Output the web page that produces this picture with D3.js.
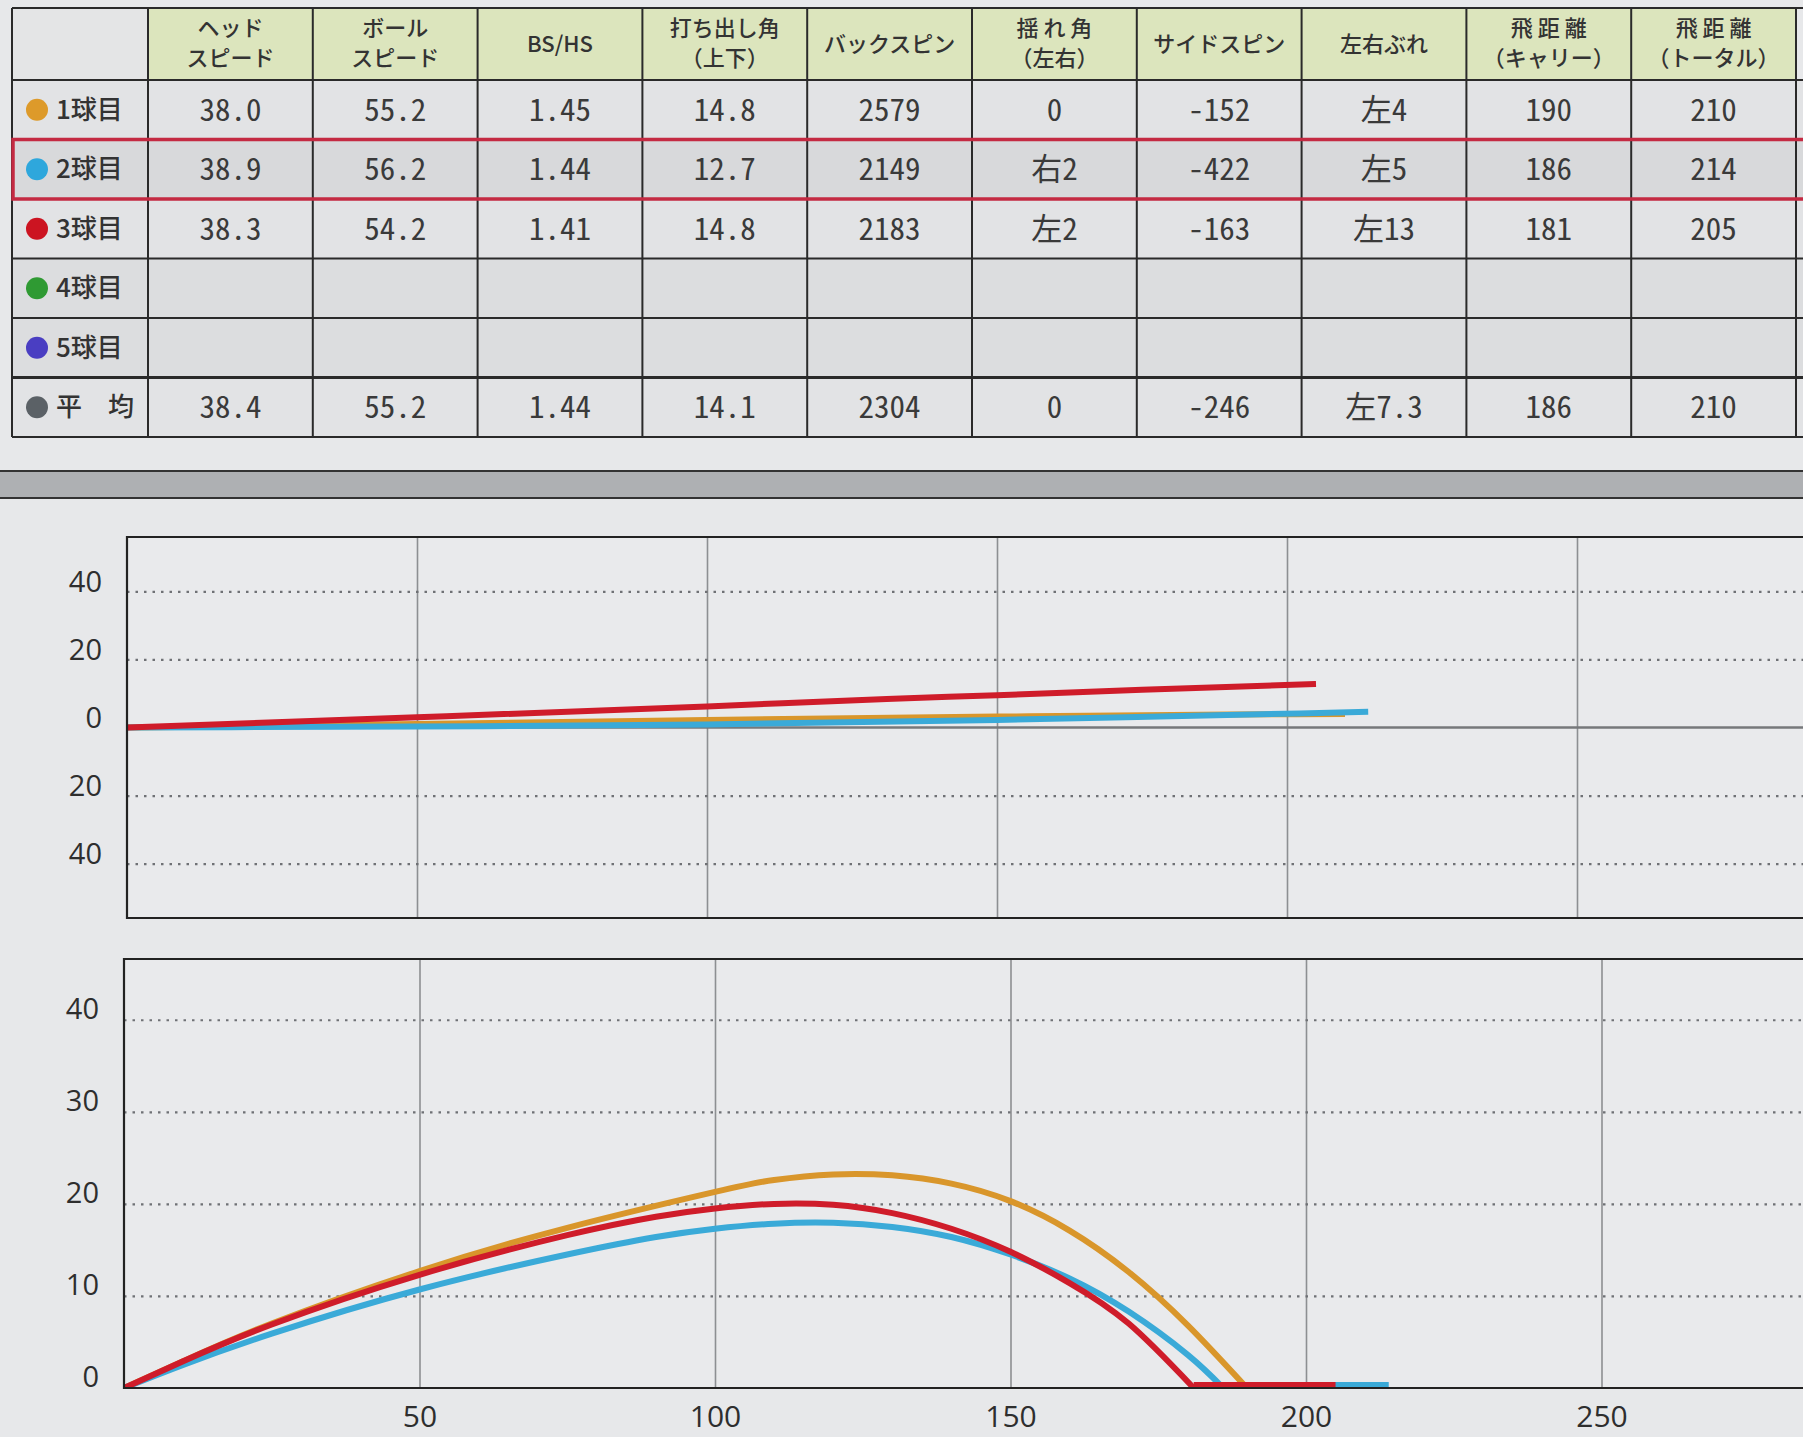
<!DOCTYPE html>
<html><head><meta charset="utf-8">
<script src="https://cdn.jsdelivr.net/npm/d3@7"></script>
<style>
html,body{margin:0;padding:0;background:#e6e7e9;overflow:hidden}
svg{display:block}
</style></head><body>
<svg id="c" width="1803" height="1437"></svg>
<script>
// ---------- table data ----------
const rowLabels = ["1球目","2球目","3球目","4球目","5球目","平　均"];
const rowColors = ["#dd9a2a","#2ea7dc","#cc1421","#2f9a33","#4a3ec2","#5b6166"];
const headerLines = [
  ["ヘッド","スピード"],["ボール","スピード"],["BS/HS"],["打ち出し角","（上下）"],
  ["バックスピン"],["揺 れ 角","（左右）"],["サイドスピン"],["左右ぶれ"],
  ["飛 距 離","（キャリー）"],["飛 距 離","（トータル）"]
];
const headSpeed = ["38.0","38.9","38.3","","","38.4"];
const ballSpeed = ["55.2","56.2","54.2","","","55.2"];
const bsHs      = ["1.45","1.44","1.41","","","1.44"];
const launch    = ["14.8","12.7","14.8","","","14.1"];
const backSpin  = ["2579","2149","2183","","","2304"];
const sideAngle = ["0","右2","左2","","","0"];
const sideSpin  = ["-152","-422","-163","","","-246"];
const lateral   = ["左4","左5","左13","","","左7.3"];
const carry     = ["190","186","181","","","186"];
const total     = ["210","214","205","","","210"];
const columns = [headSpeed,ballSpeed,bsHs,launch,backSpin,sideAngle,sideSpin,lateral,carry,total];

// ---------- chart data (yards) ----------
const shotNames  = ["1球目","2球目","3球目"];
const shotColors = ["#d9962b","#3aaad8","#cf1c2a"];
// top view: [distance, lateral (left positive)]
const top1 = [[0,0],[50,1.0],[100,2.2],[150,3.2],[190,3.8],[210,4.0]];
const top2 = [[0,0],[50,0.3],[100,0.9],[150,2.2],[180,3.3],[214,4.6]];
const top3 = [[0,0],[50,3.0],[100,6.2],[131,8.4],[150,9.5],[175,11.1],[205,12.8]];
// side view flight: [distance, height]
const flight1 = [[0,0],[10,2.9],[25,7.0],[50,12.7],[75,17.4],[100,21.3],[110,22.6],[120,23.2],[130,23.1],[140,22.2],[150,20.3],[160,17.1],[170,12.6],[180,6.8],[190,0]];
const flight2 = [[0,0],[10,2.5],[25,5.9],[50,10.7],[75,14.5],[90,16.4],[100,17.3],[110,17.85],[120,17.95],[130,17.5],[140,16.4],[150,14.5],[160,11.9],[170,8.3],[180,3.6],[186,0]];
const flight3 = [[0,0],[10,2.9],[25,6.9],[50,12.3],[75,16.6],[90,18.6],[100,19.5],[110,20.0],[120,19.9],[130,19.0],[140,17.3],[150,14.8],[160,11.4],[170,7.0],[181,0]];
// side view roll on the ground: [carry, total]
const roll1 = [190,210];
const roll2 = [186,214];
const roll3 = [181,205];
const topSeries  = [top1, top2, top3];
const flightSeries = [flight1, flight2, flight3];
const rollSeries = [roll1, roll2, roll3];
const xTicks = [50,100,150,200,250];
const topYTicks = [-40,-20,0,20,40];
const sideYTicks = [0,10,20,30,40];

const svg = d3.select("#c");
const W = 1803, H = 1437;
svg.append("rect").attr("width",W).attr("height",H).attr("fill","#e7e8ea");

// ---------- table ----------
const tLeft = 12, c1 = 148, tRight = 1796;
const colW = (tRight - c1) / 10;
const colX = i => i === 0 ? tLeft : c1 + (i-1)*colW;
const hTop = 8, hBot = 80, rowH = 59.5;
const rowY = r => hBot + r*rowH;

const tbl = svg.append("g");
tbl.append("rect").attr("x",tLeft).attr("y",hTop).attr("width",c1-tLeft).attr("height",hBot-hTop).attr("fill","#e4e5e6");
tbl.selectAll("rect.h").data(headerLines).join("rect").attr("class","h")
  .attr("x",(d,i)=>colX(i+1)).attr("y",hTop).attr("width",colW).attr("height",hBot-hTop)
  .attr("fill","#dce5bd");
tbl.selectAll("text.h").data(headerLines).join("text").attr("class","h")
  .attr("x",(d,i)=>colX(i+1)+colW/2)
  .attr("text-anchor","middle")
  .attr("font-family","'Noto Sans CJK JP','Noto Sans',sans-serif")
  .attr("font-weight",500).attr("font-size",22).attr("fill","#333")
  .each(function(d){
    const t = d3.select(this);
    if (d.length === 1) {
      t.append("tspan").attr("y",(hTop+hBot)/2+8).text(d[0]);
    } else {
      t.append("tspan").attr("x",t.attr("x")).attr("y",hTop+28).text(d[0]);
      t.append("tspan").attr("x",t.attr("x")).attr("y",hTop+58).text(d[1]);
    }
  });
tbl.selectAll("rect.b").data(rowLabels).join("rect").attr("class","b")
  .attr("x",tLeft).attr("y",(d,i)=>rowY(i)).attr("width",W-tLeft).attr("height",rowH)
  .attr("fill",(d,i)=> i===1 ? "#d8d9db" : (i===3||i===4 ? "#dcdddf" : "#e2e3e5"));
tbl.selectAll("circle.dot").data(rowLabels).join("circle").attr("class","dot")
  .attr("cx",37).attr("cy",(d,i)=>rowY(i)+rowH/2).attr("r",11)
  .attr("fill",(d,i)=>rowColors[i]);
tbl.selectAll("text.lab").data(rowLabels).join("text").attr("class","lab")
  .attr("x",56).attr("y",(d,i)=>rowY(i)+rowH/2+9)
  .attr("font-family","'Noto Sans CJK JP',sans-serif").attr("font-weight",500)
  .attr("font-size",26).attr("fill","#333").text(d=>d);
columns.forEach((col,ci)=>{
  tbl.selectAll("text.v"+ci).data(col).join("text").attr("class","v"+ci)
    .attr("x",colX(ci+1)+colW/2).attr("y",(d,i)=>rowY(i)+rowH/2+11)
    .attr("text-anchor","middle")
    .attr("font-family","'Noto Sans Mono CJK JP','Liberation Mono',monospace")
    .attr("font-weight",300)
    .attr("font-size",31).attr("fill","#3a3a3a").text(d=>d);
});
const lineCol = "#2a2a2a";
const hy = [hTop, hBot].concat(d3.range(1,7).map(r=>rowY(r)));
tbl.selectAll("line.hl").data(hy).join("line").attr("class","hl")
  .attr("x1",tLeft).attr("x2",W).attr("y1",d=>d).attr("y2",d=>d)
  .attr("stroke",lineCol).attr("stroke-width",(d,i)=> i===6 ? 3 : 2);
const vx = d3.range(0,12).map(i=> i<11 ? colX(i) : tRight);
tbl.selectAll("line.vl").data(vx).join("line").attr("class","vl")
  .attr("x1",d=>d).attr("x2",d=>d).attr("y1",hTop).attr("y2",rowY(6))
  .attr("stroke",lineCol).attr("stroke-width",2);
tbl.append("rect").attr("x",tLeft+1).attr("y",rowY(1)).attr("width",W).attr("height",rowH)
  .attr("fill","none").attr("stroke","#c42a42").attr("stroke-width",3.5);

// ---------- separator band ----------
svg.append("rect").attr("x",0).attr("y",472).attr("width",W).attr("height",26).attr("fill","#aeb0b3");
svg.append("line").attr("x1",0).attr("x2",W).attr("y1",471).attr("y2",471).attr("stroke","#333").attr("stroke-width",2);
svg.append("line").attr("x1",0).attr("x2",W).attr("y1",498).attr("y2",498).attr("stroke","#333").attr("stroke-width",2);

const fontAxis = "'Open Sans','Noto Sans',sans-serif";

function drawPlot(opts){
  const {x, y, top, bottom, yTicks, yFmt, zeroLine, xLabels, id} = opts;
  const g = svg.append("g");
  const left = x.range()[0];
  g.append("clipPath").attr("id",id).append("rect")
    .attr("x",left).attr("y",top).attr("width",W-left).attr("height",bottom-top);
  g.append("rect").attr("x",left).attr("y",top).attr("width",W-left+10).attr("height",bottom-top)
    .attr("fill","#e9eaec");
  g.append("g").attr("transform",`translate(0,${bottom})`)
    .call(d3.axisBottom(x).tickValues(xTicks).tickSize(-(bottom-top)).tickFormat(""))
    .call(a=>a.select(".domain").remove())
    .call(a=>a.selectAll("line").attr("stroke","#8d8f92").attr("stroke-width",1.6));
  g.append("g").attr("transform",`translate(${left},0)`)
    .call(d3.axisLeft(y).tickValues(yTicks.filter(v=>v!==0)).tickSize(-(W-left)).tickFormat(""))
    .call(a=>a.select(".domain").remove())
    .call(a=>a.selectAll("line").attr("stroke","#6f7175").attr("stroke-width",2.2).attr("stroke-dasharray","2.5,6"));
  if (zeroLine) {
    g.append("line").attr("x1",left).attr("x2",W).attr("y1",y(0)).attr("y2",y(0))
      .attr("stroke","#76787b").attr("stroke-width",2.5);
  }
  g.append("g").attr("transform",`translate(${left-22},0)`)
    .call(d3.axisLeft(y).tickValues(yTicks).tickSize(0).tickFormat(yFmt))
    .call(a=>a.select(".domain").remove())
    .call(a=>a.selectAll("text").attr("font-family",fontAxis).attr("font-size",29)
      .attr("fill","#2e2e2e").attr("dy",opts.labelDy));
  const lg = g.append("g").attr("clip-path",`url(#${id})`);
  opts.drawLines(lg);
  g.append("path").attr("d",`M${W+5},${top}H${left}V${bottom}H${W+5}`)
    .attr("fill","none").attr("stroke","#222").attr("stroke-width",2.2);
  if (xLabels) {
    g.append("g").attr("transform",`translate(0,${bottom})`)
      .call(d3.axisBottom(x).tickValues(xTicks).tickSize(0).tickPadding(18))
      .call(a=>a.select(".domain").remove())
      .call(a=>a.selectAll("text").attr("font-family",fontAxis).attr("font-size",30).attr("fill","#2e2e2e"));
  }
}

// top view
const xTop = d3.scaleLinear().domain([0,300]).range([127,127+5.8*300]);
const yTop = d3.scaleLinear().domain([-56,56]).range([918,537]);
drawPlot({
  id:"clipTop", x:xTop, y:yTop, top:537, bottom:918,
  yTicks: topYTicks, yFmt: d=>Math.abs(d), zeroLine:true, xLabels:false, labelDy:"0.0em",
  drawLines: lg => {
    const ln = d3.line().x(d=>xTop(d[0])).y(d=>yTop(d[1])).curve(d3.curveMonotoneX);
    topSeries.forEach((s,i)=>{
      lg.append("path").datum(s).attr("d",ln).attr("fill","none")
        .attr("stroke",shotColors[i]).attr("stroke-width",6).attr("stroke-linecap","butt");
    });
  }
});
// side view
const xSide = d3.scaleLinear().domain([0,300]).range([124,124+5.91*300]);
const ySide = d3.scaleLinear().domain([0,46.6]).range([1388,959]);
drawPlot({
  id:"clipSide", x:xSide, y:ySide, top:959, bottom:1388,
  yTicks: sideYTicks, yFmt: d=>d, zeroLine:false, xLabels:true, labelDy:"-0.05em",
  drawLines: lg => {
    const fl = d3.line().x(d=>xSide(d[0])).y(d=>ySide(d[1])).curve(d3.curveNatural);
    flightSeries.forEach((s,i)=>{
      const r = rollSeries[i];
      lg.append("path").datum(s).attr("d",fl).attr("fill","none")
        .attr("stroke",shotColors[i]).attr("stroke-width",6).attr("stroke-linejoin","miter");
      lg.append("line").attr("x1",xSide(r[0])).attr("x2",xSide(r[1]))
        .attr("y1",ySide(0)-3).attr("y2",ySide(0)-3)
        .attr("stroke",shotColors[i]).attr("stroke-width",6);
    });
  }
});
</script></body></html>
